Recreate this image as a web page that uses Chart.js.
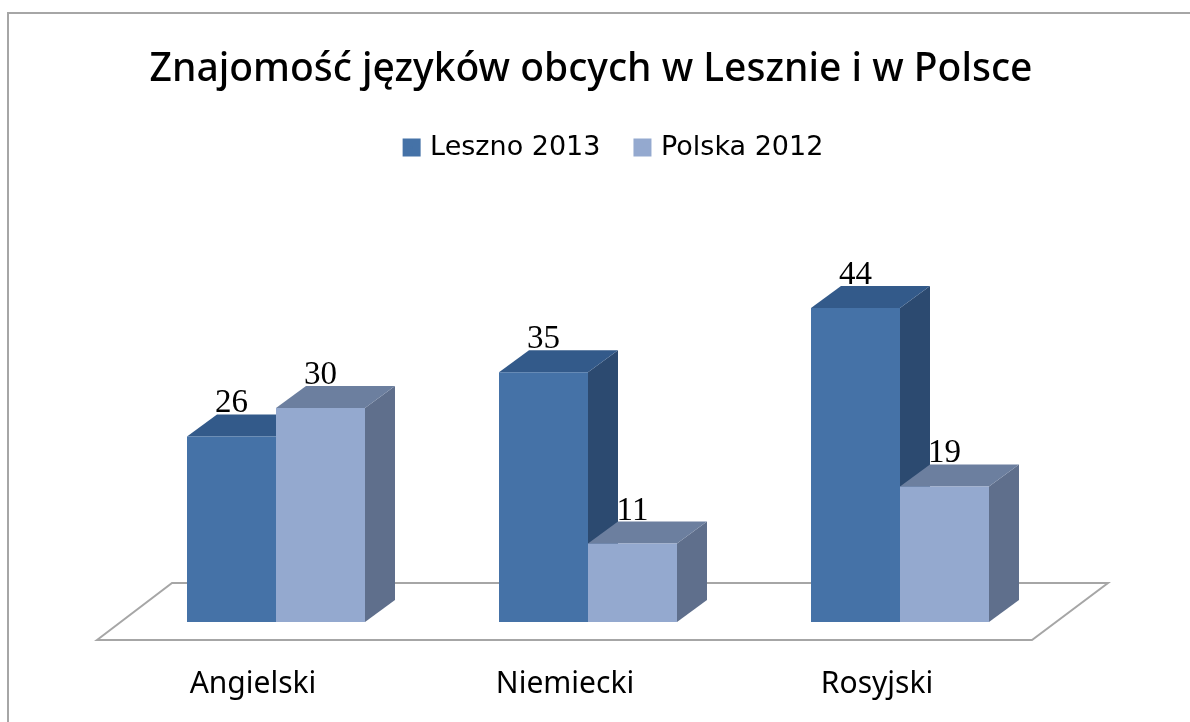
<!DOCTYPE html>
<html><head><meta charset="utf-8">
<style>html,body{margin:0;padding:0;background:#fff}#w{position:relative;width:1190px;height:722px}</style>
<script src="https://cdn.jsdelivr.net/npm/chart.js@4"></script>
</head><body><div id="w"><canvas id="c" width="1190" height="722"></canvas></div>
<script>
const categories = ["Angielski", "Niemiecki", "Rosyjski"];
const leszno2013 = [26, 35, 44];
const polska2012 = [30, 11, 19];
const seriesNames = ["Leszno 2013", "Polska 2012"];
const chartTitle = "Znajomość języków obcych w Lesznie i w Polsce";
const AXIS_MAX = 63.2;

const FRONT = ["#4572a7", "#94a9cf"];
const SIDE = ["#2c4a70", "#5f6f8c"];
const TOP = ["#335a8a", "#6c7f9f"];
const DX = 30, DY = 22;

function poly(ctx, pts, fill) {
  ctx.beginPath();
  pts.forEach((p, i) => i ? ctx.lineTo(p[0], p[1]) : ctx.moveTo(p[0], p[1]));
  ctx.closePath();
  if (fill) { ctx.fillStyle = fill; ctx.fill(); }
}

function faces(chart, i) {
  const c = chart.ctx;
  chart.getDatasetMeta(i).data.forEach(b => {
    const l = b.x - b.width / 2, r = b.x + b.width / 2, t = b.y, bt = b.base;
    poly(c, [[r, bt], [r + DX, bt - DY], [r + DX, t - DY], [r, t]], SIDE[i]);
    poly(c, [[l, t], [l + DX, t - DY], [r + DX, t - DY], [r, t]], TOP[i]);
  });
}

const frame = {
  id: "frame",
  afterLayout(chart) {
    chart.legend.left += 27; chart.legend.right += 27;
    chart.titleBlock.left += 3; chart.titleBlock.right += 3;
  },
  beforeDraw(chart) {
    const c = chart.ctx;
    c.save();
    c.strokeStyle = "#a6a6a6"; c.lineWidth = 2;
    c.beginPath();
    c.moveTo(8, 722); c.lineTo(8, 13); c.lineTo(1190, 13);
    c.stroke();
    c.restore();
  }
};

const floor3d = {
  id: "floor3d",
  beforeDatasetsDraw(chart) {
    const c = chart.ctx, base = chart.scales.y.getPixelForValue(0);
    const a = chart.chartArea;
    c.save();
    poly(c, [[a.left - 23, base + 18], [a.left + 52, base - 39],
             [a.right + 52, base - 39], [a.right - 24, base + 18]], "#ffffff");
    c.strokeStyle = "#a6a6a6"; c.lineWidth = 2; c.stroke();
    // Chart.js paints dataset 1 first, then dataset 0: both depth faces go under them.
    faces(chart, 0);
    faces(chart, 1);
    c.restore();
  },
  afterDatasetsDraw(chart) {
    const c = chart.ctx;
    c.save();
    c.fillStyle = "#000";
    c.font = '33px "Liberation Serif"';
    c.textAlign = "center"; c.textBaseline = "alphabetic";
    chart.data.datasets.forEach((ds, i) => {
      chart.getDatasetMeta(i).data.forEach((b, j) => {
        c.fillText(String(ds.data[j]), b.x, b.y - 24);
      });
    });
    c.restore();
  }
};

new Chart(document.getElementById("c"), {
  type: "bar",
  data: {
    labels: categories,
    datasets: [
      { label: seriesNames[0], data: leszno2013, backgroundColor: FRONT[0] },
      { label: seriesNames[1], data: polska2012, backgroundColor: FRONT[1] }
    ]
  },
  plugins: [frame, floor3d],
  options: {
    responsive: false,
    animation: false,
    layout: { padding: { left: 120, right: 134, top: 0, bottom: 0 } },
    datasets: { bar: { categoryPercentage: 0.5705, barPercentage: 1 } },
    plugins: {
      tooltip: { enabled: false },
      title: {
        display: true, text: chartTitle, color: "#000",
        font: { family: '"Noto Sans"', size: 39, weight: 500 },
        padding: { top: 46, bottom: 4.2 }
      },
      legend: {
        display: true, position: "top",
        labels: {
          color: "#000", boxWidth: 10, boxHeight: 10, padding: 37,
          font: { family: '"DejaVu Sans"', size: 27 },
          generateLabels(chart) {
            return Chart.defaults.plugins.legend.labels.generateLabels(chart).map(it => {
              it.strokeStyle = it.fillStyle;
              it.lineWidth = 8;
              return it;
            });
          }
        }
      }
    },
    scales: {
      x: {
        grid: { display: false }, border: { display: false },
        afterFit(scale) { scale.height = 100; },
        ticks: { color: "#000", labelOffset: -23, padding: 36,
                 font: { family: '"Noto Sans"', size: 30 }, maxRotation: 0 }
      },
      y: { display: false, min: 0, max: AXIS_MAX }
    }
  }
});
</script></body></html>
